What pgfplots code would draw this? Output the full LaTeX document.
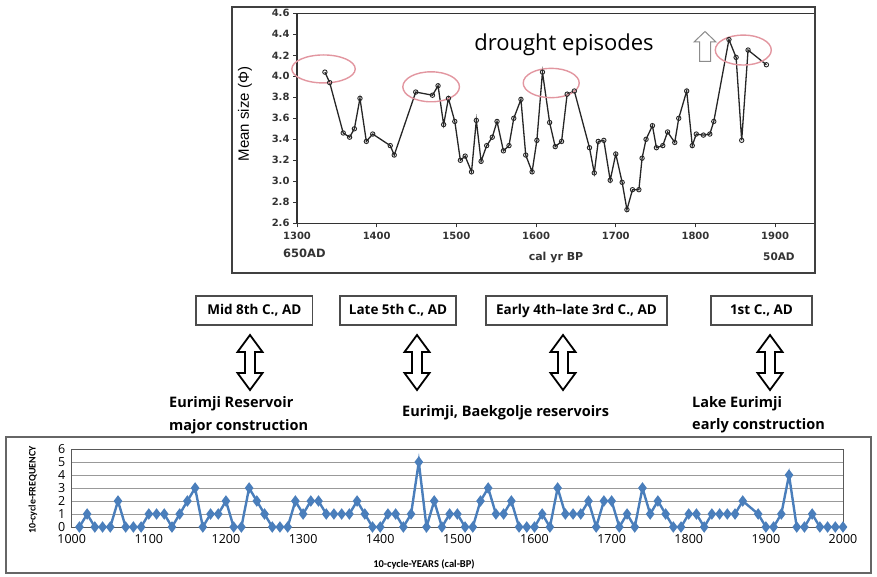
\documentclass[border=0pt]{standalone}
\usepackage{fontspec}
\setmainfont{Liberation Sans}
\newfontfamily\osans{Open Sans}
\newfontfamily\djv{DejaVu Sans}
\newfontfamily\carl{Carlito}
\usepackage{pgfplots}
\pgfplotsset{compat=1.18}
\definecolor{xlblue}{RGB}{74,126,187}
\definecolor{pinkr}{RGB}{226,150,160}

\pgfplotstableread{
x y
1335 4.04
1341 3.94
1358 3.46
1366 3.42
1372 3.50
1379 3.79
1387 3.38
1395 3.45
1417 3.34
1422 3.25
1449 3.85
1470 3.82
1477 3.91
1484 3.54
1490 3.79
1498 3.57
1505 3.20
1511 3.24
1519 3.09
1525 3.58
1531 3.19
1538 3.34
1545 3.42
1551 3.57
1559 3.29
1566 3.34
1572 3.60
1581 3.78
1587 3.25
1595 3.09
1601 3.39
1608 4.04
1617 3.56
1624 3.33
1632 3.38
1639 3.83
1648 3.86
1667 3.32
1673 3.08
1678 3.38
1685 3.39
1693 3.01
1700 3.26
1708 2.99
1714 2.73
1721 2.92
1729 2.92
1733 3.22
1738 3.40
1746 3.53
1751 3.32
1759 3.34
1765 3.47
1774 3.37
1779 3.60
1789 3.86
1796 3.34
1801 3.45
1810 3.44
1818 3.45
1823 3.57
1842 4.35
1851 4.18
1858 3.39
1866 4.25
1889 4.11
}\meansize

\pgfplotstableread{
x y
1010 0
1020 1
1030 0
1040 0
1050 0
1060 2
1070 0
1080 0
1090 0
1100 1
1110 1
1120 1
1130 0
1140 1
1150 2
1160 3
1170 0
1180 1
1190 1
1200 2
1210 0
1220 0
1230 3
1240 2
1250 1
1260 0
1270 0
1280 0
1290 2
1300 1
1310 2
1320 2
1330 1
1340 1
1350 1
1360 1
1370 2
1380 1
1390 0
1400 0
1410 1
1420 1
1430 0
1440 1
1450 5
1460 0
1470 2
1480 0
1490 1
1500 1
1510 0
1520 0
1530 2
1540 3
1550 1
1560 1
1570 2
1580 0
1590 0
1600 0
1610 1
1620 0
1630 3
1640 1
1650 1
1660 1
1670 2
1680 0
1690 2
1700 2
1710 0
1720 1
1730 0
1740 3
1750 1
1760 2
1770 1
1780 0
1790 0
1800 1
1810 1
1820 0
1830 1
1840 1
1850 1
1860 1
1870 2
1890 1
1900 0
1910 0
1920 1
1930 4
1940 0
1950 0
1960 1
1970 0
1980 0
1990 0
2000 0
}\freq

\begin{document}
\begin{tikzpicture}
\path[use as bounding box] (0pt,0pt) rectangle (877pt,-577pt);

% ---------- top chart ----------
\begin{axis}[
  at={(297pt,-223.3pt)}, anchor=south west, scale only axis,
  width=518pt, height=210pt,
  xmin=1300, xmax=1950, ymin=2.6, ymax=4.6,
  xtick={1300,1400,1500,1600,1700,1800,1900},
  ytick={2.6,2.8,3.0,3.2,3.4,3.6,3.8,4.0,4.2,4.4,4.6},
  xtick pos=bottom, ytick pos=left, tick align=outside,
  major tick length=4pt,
  axis line style={black!80, line width=1.2pt},
  every tick/.style={black!80, line width=1pt},
  /pgf/number format/assume math mode=true,
  /pgf/number format/1000 sep={},
  tick label style={font=\djv\bfseries\fontsize{10}{12}\selectfont, black!80},
  yticklabel style={/pgf/number format/.cd, fixed, fixed zerofill, precision=1},
  xticklabel style={yshift=-1pt},
  clip=false,
]
\addplot[black!85, line width=1.3pt, mark=o, mark size=2.2pt,
  mark options={fill=white, line width=0.9pt}] table[x=x,y=y] {\meansize};
\draw[pinkr, line width=1.4pt] (axis cs:1333.3,4.07) ellipse [x radius=31.7pt, y radius=14pt];
\draw[pinkr, line width=1.4pt] (axis cs:1468.3,3.90) ellipse [x radius=28.3pt, y radius=15pt];
\draw[pinkr, line width=1.4pt] (axis cs:1619,3.936) ellipse [x radius=28pt, y radius=14.7pt];
\draw[pinkr, line width=1.4pt] (axis cs:1860,4.25) ellipse [x radius=28pt, y radius=15pt];
\end{axis}

% ---------- bottom chart ----------
\begin{axis}[
  at={(71.7pt,-527pt)}, anchor=south west, scale only axis,
  width=771.3pt, height=78pt,
  xmin=1000, xmax=2000, ymin=0, ymax=6,
  xtick={1000,1100,1200,1300,1400,1500,1600,1700,1800,1900,2000},
  ytick={0,1,2,3,4,5,6},
  major tick length=0pt,
  ymajorgrids, grid style={black!40, line width=0.8pt},
  axis line style={black!65, line width=1pt},
  /pgf/number format/assume math mode=true,
  /pgf/number format/1000 sep={},
  tick label style={font=\osans\fontsize{12.5}{14}\selectfont, black},
  xticklabel style={yshift=-4pt},
  yticklabel style={xshift=-3pt},
  clip=false,
]
\addplot[xlblue, line width=2.4pt, mark=diamond*, mark size=3.8pt,
  mark options={xlblue, solid}] table[x=x,y=y] {\freq};
\end{axis}

\begin{scope}[x=1pt, y=-1pt]
% frames
\draw[black!75, line width=1.8pt] (232,7) rectangle (815,273);
\draw[black!60, line width=1.8pt] (6,437) rectangle (871,573);

% top chart annotations
\node[anchor=west, inner sep=0, font=\djv\bfseries\fontsize{11.5}{13}\selectfont, black!80] at (283,253) {650AD};
\node[inner sep=0, font=\djv\bfseries\fontsize{11}{13}\selectfont, black!80] at (556,258) {cal yr BP};
\node[anchor=west, inner sep=0, font=\djv\bfseries\fontsize{10.5}{13}\selectfont, black!80] at (763,257) {50AD};
\node[rotate=90, inner sep=0, font=\fontsize{15}{17}\selectfont] at (245,114) {Mean size (Φ)};
\node[inner sep=0, font=\osans\fontsize{22}{26}\selectfont] at (564,45) {drought episodes};
\draw[black!45, line width=1pt, fill=white]
  (705,31.5) -- (716,42) -- (710.5,42) -- (710.5,61.5) -- (699.5,61.5) -- (699.5,42) -- (694,42) -- cycle;

% middle boxes
\foreach \cx/\w/\t in {254.3/116.7/{Mid 8th C., AD}, 398/116/{Late 5th C., AD},
   576.5/181/{Early 4th–late 3rd C., AD}, 761.5/101/{1st C., AD}}{
  \node[draw=black!70, line width=1.3pt, minimum width=\w pt, minimum height=29pt,
    inner sep=0, font=\osans\bfseries\fontsize{13.5}{15}\selectfont] at (\cx,310.5) {\t};
}
% double arrows
\foreach \cx in {250,417,563,770}{
  \draw[black, line width=1.8pt, fill=white]
    (\cx,335) -- (\cx+12.5,352) -- (\cx+5,352) -- (\cx+5,373) -- (\cx+12.5,373) -- (\cx,390)
    -- (\cx-12.5,373) -- (\cx-5,373) -- (\cx-5,352) -- (\cx-12.5,352) -- cycle;
}
\node[anchor=west, inner sep=0, font=\osans\bfseries\fontsize{14.5}{16}\selectfont] at (169,404) {Eurimji Reservoir};
\node[anchor=west, inner sep=0, font=\osans\bfseries\fontsize{14.5}{16}\selectfont] at (169,427) {major construction};
\node[anchor=west, inner sep=0, font=\osans\bfseries\fontsize{14.5}{16}\selectfont] at (402,413) {Eurimji, Baekgolje reservoirs};
\node[anchor=west, inner sep=0, font=\osans\bfseries\fontsize{14.5}{16}\selectfont] at (692,404) {Lake Eurimji};
\node[anchor=west, inner sep=0, font=\osans\bfseries\fontsize{14.5}{16}\selectfont] at (692,426) {early construction};

% bottom chart labels
\node[rotate=90, inner sep=0, font=\carl\bfseries\fontsize{10}{12}\selectfont] at (33,490) {10-cycle-FREQUENCY};
\node[inner sep=0, font=\carl\bfseries\fontsize{10.5}{12}\selectfont] at (424,564) {10-cycle-YEARS (cal-BP)};
\end{scope}
\end{tikzpicture}
\end{document}
